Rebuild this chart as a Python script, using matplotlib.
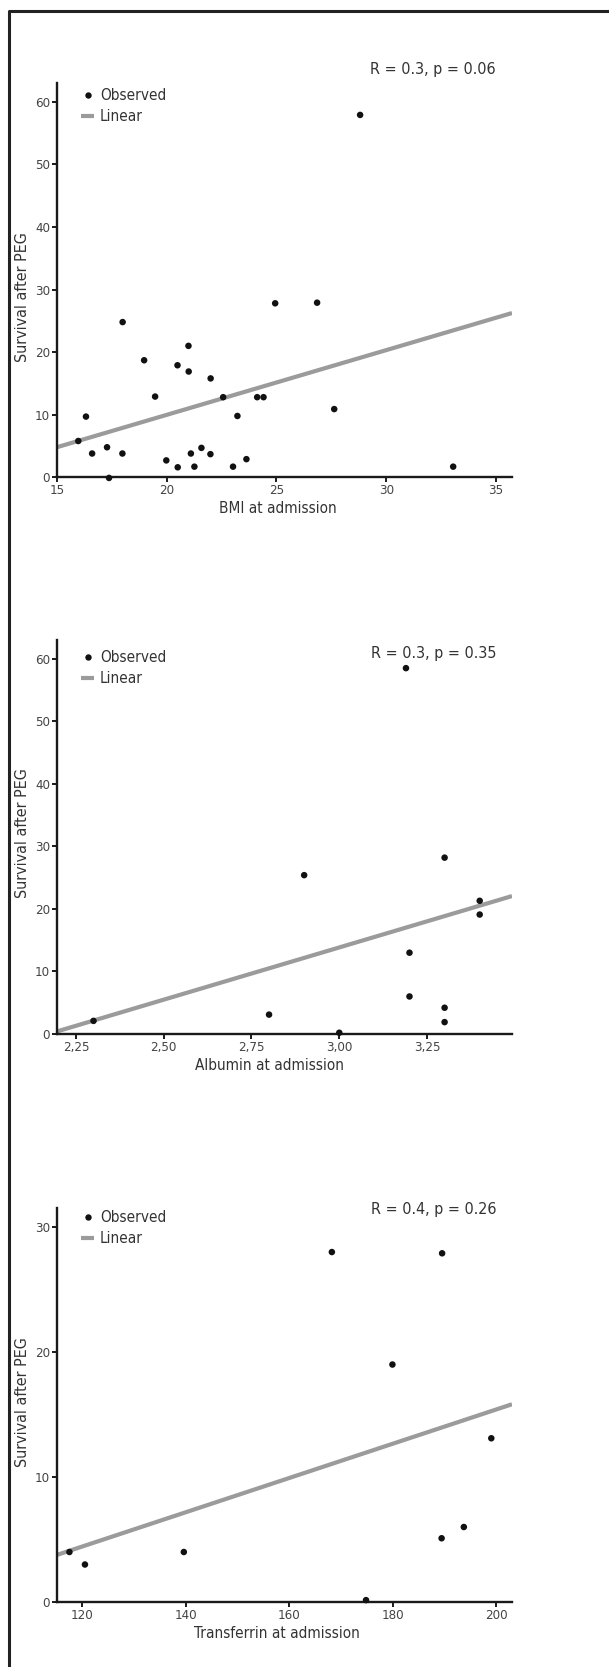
#!/usr/bin/env python3
"""
Survival after PEG vs. BMI / albumin / transferrin at admission.
Three stacked scatter plots with a linear fit each.
"""

import numpy as np
import matplotlib
matplotlib.use("Agg")
import matplotlib.pyplot as plt
from matplotlib.lines import Line2D

# ----------------- DATA -----------------
bmi = [15.97, 16.32, 16.6, 17.28, 17.37, 17.98, 17.99, 18.97, 19.47, 19.98,
       20.49, 20.5, 20.99, 21.0, 21.1, 21.26, 21.58, 21.99, 22.0, 22.57,
       23.02, 23.22, 23.63, 24.12, 24.41, 24.94, 26.85, 27.63, 28.81, 33.05]
bmi_surv = [5.8, 9.7, 3.8, 4.8, -0.1, 3.8, 24.8, 18.7, 12.9, 2.7,
            17.9, 1.6, 21.0, 16.9, 3.8, 1.7, 4.7, 3.7, 15.8, 12.8,
            1.7, 9.8, 2.9, 12.8, 12.8, 27.8, 27.9, 10.9, 57.9, 1.7]
bmi_fit = (1.034, -10.7)          # slope, intercept

albumin = [2.30, 2.80, 2.90, 3.00, 3.19, 3.20, 3.20, 3.30, 3.30, 3.30, 3.40, 3.40]
alb_surv = [2.1, 3.1, 25.4, 0.2, 58.5, 13.0, 6.0, 28.2, 4.2, 1.9, 21.3, 19.1]
alb_fit = (16.7, -36.26)

transferrin = [117.5, 120.5, 139.6, 168.2, 174.8, 179.9, 189.5, 189.4, 193.7, 199.0]
trf_surv = [4.0, 3.0, 4.0, 28.0, 0.15, 19.0, 27.9, 5.1, 6.0, 13.1]
trf_fit = (0.1371, -12.01)

bmi_ticks = [15, 20, 25, 30, 35]
bmi_ticklabels = ["15", "20", "25", "30", "35"]
alb_ticks = [2.25, 2.50, 2.75, 3.00, 3.25]
alb_ticklabels = ["2,25", "2,50", "2,75", "3,00", "3,25"]
trf_ticks = [120, 140, 160, 180, 200]
trf_ticklabels = ["120", "140", "160", "180", "200"]

stats_text = ["R = 0.3, p = 0.06", "R = 0.3, p = 0.35", "R = 0.4, p = 0.26"]
xlabels = ["BMI at admission", "Albumin at admission", "Transferrin at admission"]
YLABEL = "Survival after PEG"
# ----------------------------------------

plt.rcParams['font.family'] = ['Liberation Sans Narrow', 'DejaVu Sans']
plt.rcParams['font.stretch'] = 'condensed'

TEXT = '#333333'
AXC = '#1a1a1a'
GREY = '#9b9b9b'
LABEL_FS = 11
STAT_FS = 11.5

W, H = 609, 1667
fig = plt.figure(figsize=(W / 100, H / 100), dpi=100)

# frame line (left + top) of the original figure box
fig.add_artist(Line2D([9 / W, 9 / W, 1.0], [0.0, 1 - 11 / H, 1 - 11 / H],
                      transform=fig.transFigure, color='#222222', lw=2.2))

panels = [
    dict(x=bmi, y=bmi_surv, fit=bmi_fit, xlim=(15, 35.73), ylim=(0, 63),
         yticks=[0, 10, 20, 30, 40, 50, 60], xticks=bmi_ticks, xtl=bmi_ticklabels,
         top=83, bottom=477.3, stat_y=1.033, leg_y=0.987, ylab_y=0.457, xlab_x=0.486),
    dict(x=albumin, y=alb_surv, fit=alb_fit, xlim=(2.196, 3.492), ylim=(0, 63),
         yticks=[0, 10, 20, 30, 40, 50, 60], xticks=alb_ticks, xtl=alb_ticklabels,
         top=640, bottom=1034, stat_y=0.967, leg_y=0.975, ylab_y=0.51, xlab_x=0.466),
    dict(x=transferrin, y=trf_surv, fit=trf_fit, xlim=(115.1, 203.0), ylim=(0, 31.5),
         yticks=[0, 10, 20, 30], xticks=trf_ticks, xtl=trf_ticklabels,
         top=1208.3, bottom=1602, stat_y=0.996, leg_y=0.996, ylab_y=0.508, xlab_x=0.484),
]

for i, p in enumerate(panels):
    left, right = 57 / W, 512 / W
    ax = fig.add_axes([left, 1 - p['bottom'] / H, right - left, (p['bottom'] - p['top']) / H])

    xl = np.array(p['xlim'])
    slope, icpt = p['fit']
    ax.plot(xl, slope * xl + icpt, color=GREY, lw=3.0, solid_capstyle='butt', zorder=2)
    ax.scatter(p['x'], p['y'], s=22, color='#111111', edgecolors='none',
               clip_on=False, zorder=4)

    ax.set_xlim(*p['xlim'])
    ax.set_ylim(*p['ylim'])
    ax.set_xticks(p['xticks'])
    ax.set_xticklabels(p['xtl'])
    ax.set_yticks(p['yticks'])

    for side in ('top', 'right'):
        ax.spines[side].set_visible(False)
    for side in ('left', 'bottom'):
        ax.spines[side].set_linewidth(1.7)
        ax.spines[side].set_color(AXC)
        ax.spines[side].set_zorder(3)
    ax.tick_params(axis='both', length=3.5, width=1.4, color=AXC, labelsize=9.5,
                   labelcolor='#444444', pad=1.5)

    ax.set_xlabel(xlabels[i], fontsize=LABEL_FS, color=TEXT)
    ax.xaxis.set_label_coords(p['xlab_x'], -0.06)
    ax.set_ylabel(YLABEL, fontsize=11.5, color=TEXT)
    ax.yaxis.set_label_coords(-0.06, p['ylab_y'])

    ax.text(0.965, p['stat_y'], stats_text[i], transform=ax.transAxes,
            ha='right', va='center', fontsize=STAT_FS, color=TEXT)

    handles = [
        Line2D([], [], marker='o', ls='none', color='#111111', markersize=4.6,
               markeredgewidth=0),
        Line2D([], [], color=GREY, lw=3.0, solid_capstyle='butt'),
    ]
    leg = ax.legend(handles, ['Observed', 'Linear'], loc='upper left',
                    bbox_to_anchor=(0.052, p['leg_y']), frameon=False,
                    fontsize=LABEL_FS, handlelength=0.9, handletextpad=0.35,
                    labelspacing=0.4, borderaxespad=0, borderpad=0)
    for t in leg.get_texts():
        t.set_color(TEXT)

fig.savefig("out.png", dpi=100)
